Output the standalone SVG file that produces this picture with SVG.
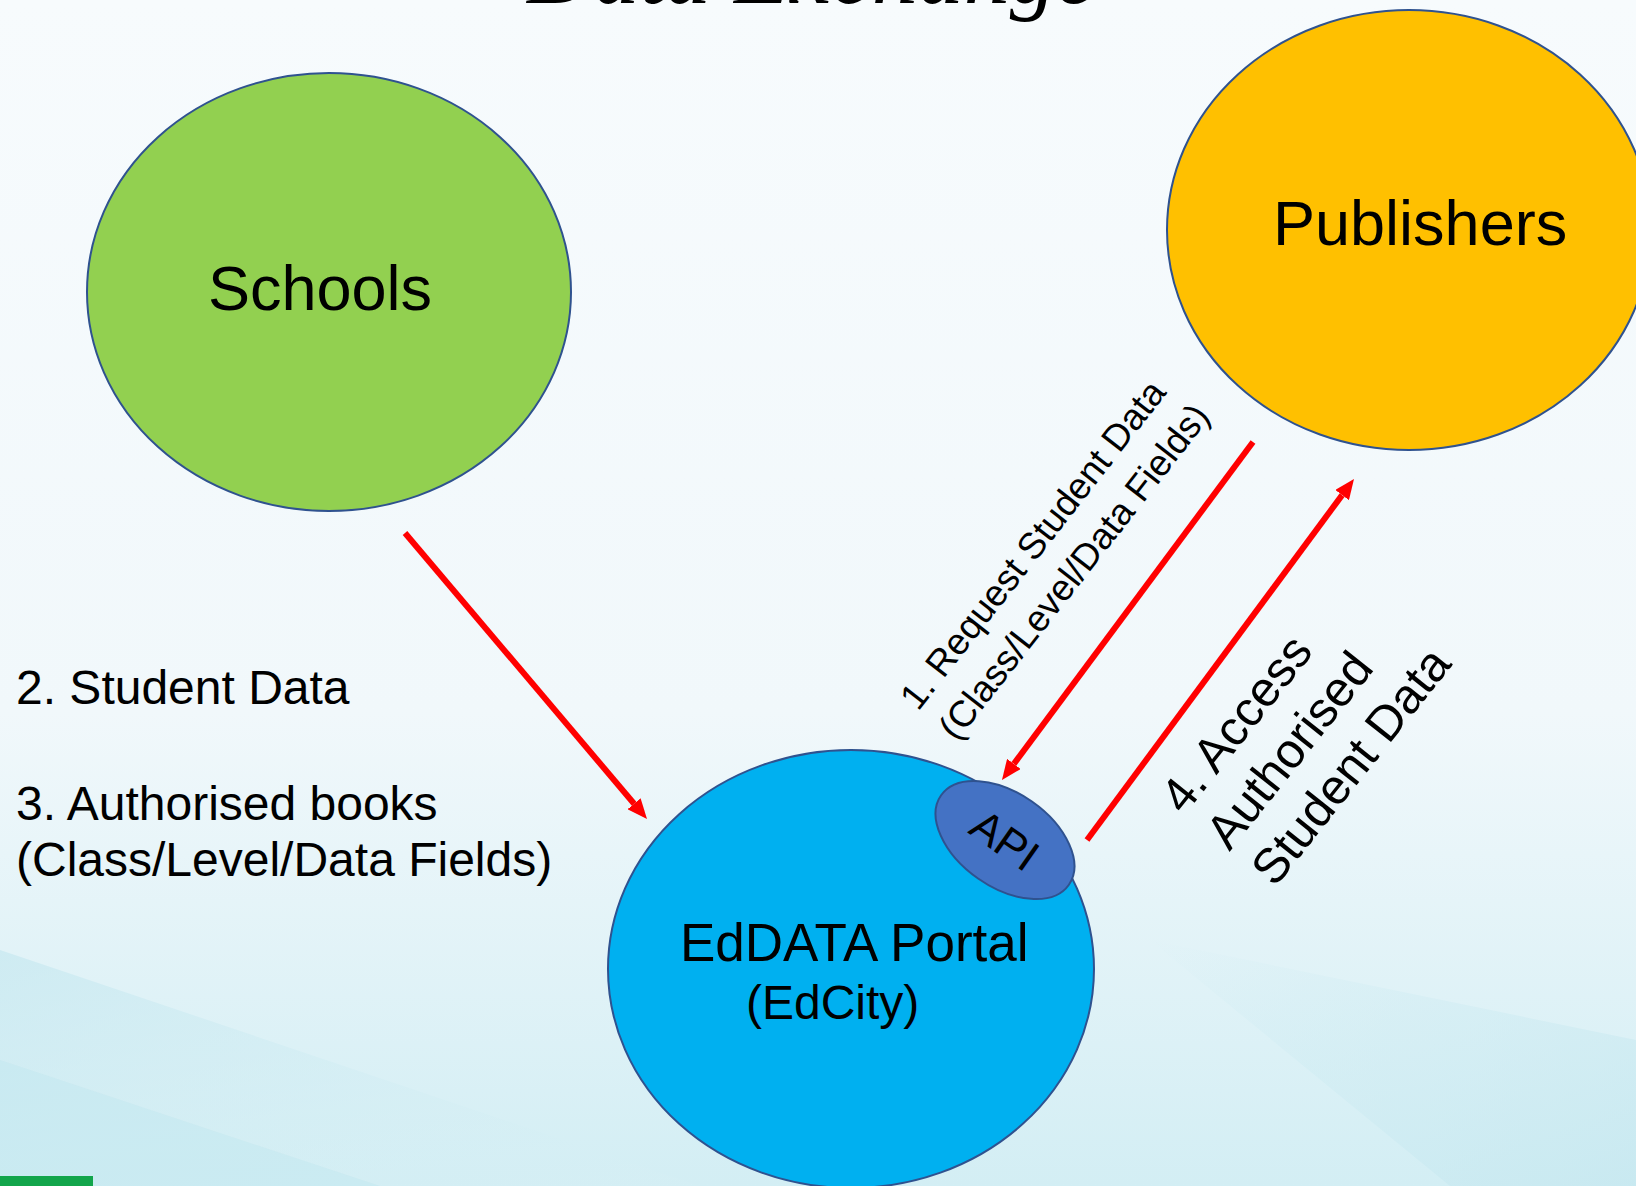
<svg xmlns="http://www.w3.org/2000/svg" width="1636" height="1186" viewBox="0 0 1636 1186">
<defs>
<linearGradient id="bg" x1="0" y1="0" x2="0" y2="1">
<stop offset="0" stop-color="#F7FBFD"/>
<stop offset="0.6" stop-color="#F1F8FB"/>
<stop offset="1" stop-color="#D3EEF4"/>
</linearGradient>
<linearGradient id="sw" x1="0" y1="0" x2="1" y2="1">
<stop offset="0" stop-color="#C6E8F0" stop-opacity="0.7"/>
<stop offset="1" stop-color="#D8F0F5" stop-opacity="0.2"/>
</linearGradient>
<linearGradient id="sw2" x1="0" y1="0" x2="1" y2="1">
<stop offset="0" stop-color="#CDEBF2" stop-opacity="0"/>
<stop offset="0.5" stop-color="#CDEBF2" stop-opacity="0.5"/>
<stop offset="1" stop-color="#C4E7EF" stop-opacity="0.7"/>
</linearGradient>
<marker id="ah" viewBox="0 0 20 17" refX="0" refY="8.5" markerUnits="userSpaceOnUse" markerWidth="20" markerHeight="17" orient="auto">
<path d="M0,0 L20,8.5 L0,17 Z" fill="#FF0000"/>
</marker>
<style>
.node{stroke:#2F528F;stroke-width:2}
.lbl{font-family:"Liberation Sans",Arial,sans-serif;fill:#000}
.conn{stroke:#FF0000;stroke-width:6;fill:none;marker-end:url(#ah)}
</style>
</defs>
<rect width="1636" height="1186" fill="url(#bg)"/>
<path d="M0,950 L700,1186 L0,1186 Z" fill="url(#sw)"/>
<path d="M0,1060 L380,1186 L0,1186 Z" fill="#C2E7EF" opacity="0.5"/>
<path d="M1150,940 L1636,1040 L1636,1186 L1450,1186 Z" fill="url(#sw2)"/>
<rect x="0" y="1176" width="93" height="10" fill="#12A54B"/>
<text x="527" y="3" font-family="'Liberation Serif',serif" font-style="italic" font-size="92" fill="#000">Data Exchange</text>

<g id="schools">
<ellipse class="node" cx="329" cy="292" rx="242" ry="219" fill="#92D050"/>
<text class="lbl" x="320" y="310" font-size="63" text-anchor="middle">Schools</text>
</g>
<g id="publishers">
<ellipse class="node" cx="1409" cy="230" rx="242" ry="220" fill="#FFC000"/>
<text class="lbl" x="1273" y="245" font-size="63">Publishers</text>
</g>
<g id="eddata">
<ellipse class="node" cx="851" cy="969" rx="243" ry="219" fill="#00B0F0"/>
<text class="lbl" x="680" y="961" font-size="53">EdDATA Portal</text>
<text class="lbl" x="746" y="1019" font-size="48">(EdCity)</text>
</g>
<g id="api">
<ellipse class="node" cx="1005" cy="840" rx="78" ry="47" fill="#4472C4" transform="rotate(35 1005 840)"/>
<text class="lbl" x="1005" y="840" font-size="44" text-anchor="middle" dominant-baseline="central" transform="rotate(35 1005 840)">API</text>
</g>

<g id="connectors">
<line class="conn" x1="405" y1="533" x2="634.1" y2="803.7"/>
<line class="conn" x1="1253" y1="442" x2="1013.9" y2="763.9"/>
<line class="conn" x1="1087" y1="840" x2="1342.1" y2="495.1"/>
</g>

<g id="labels">
<text class="lbl" x="16" y="704" font-size="48">2. Student Data</text>
<text class="lbl" x="16" y="820" font-size="48">3. Authorised books</text>
<text class="lbl" x="16" y="876" font-size="48">(Class/Level/Data Fields)</text>
<g transform="translate(918,712) rotate(-52)">
<text class="lbl" x="0" y="0" font-size="37">1. Request Student Data</text>
<text class="lbl" x="0" y="49" font-size="37">(Class/Level/Data Fields)</text>
</g>
<g transform="translate(1184,816) rotate(-51.5)">
<text class="lbl" x="0" y="0" font-size="49">4. Access</text>
<text class="lbl" x="0" y="58" font-size="49">Authorised</text>
<text class="lbl" x="0" y="116" font-size="49">Student Data</text>
</g>
</g>
</svg>
